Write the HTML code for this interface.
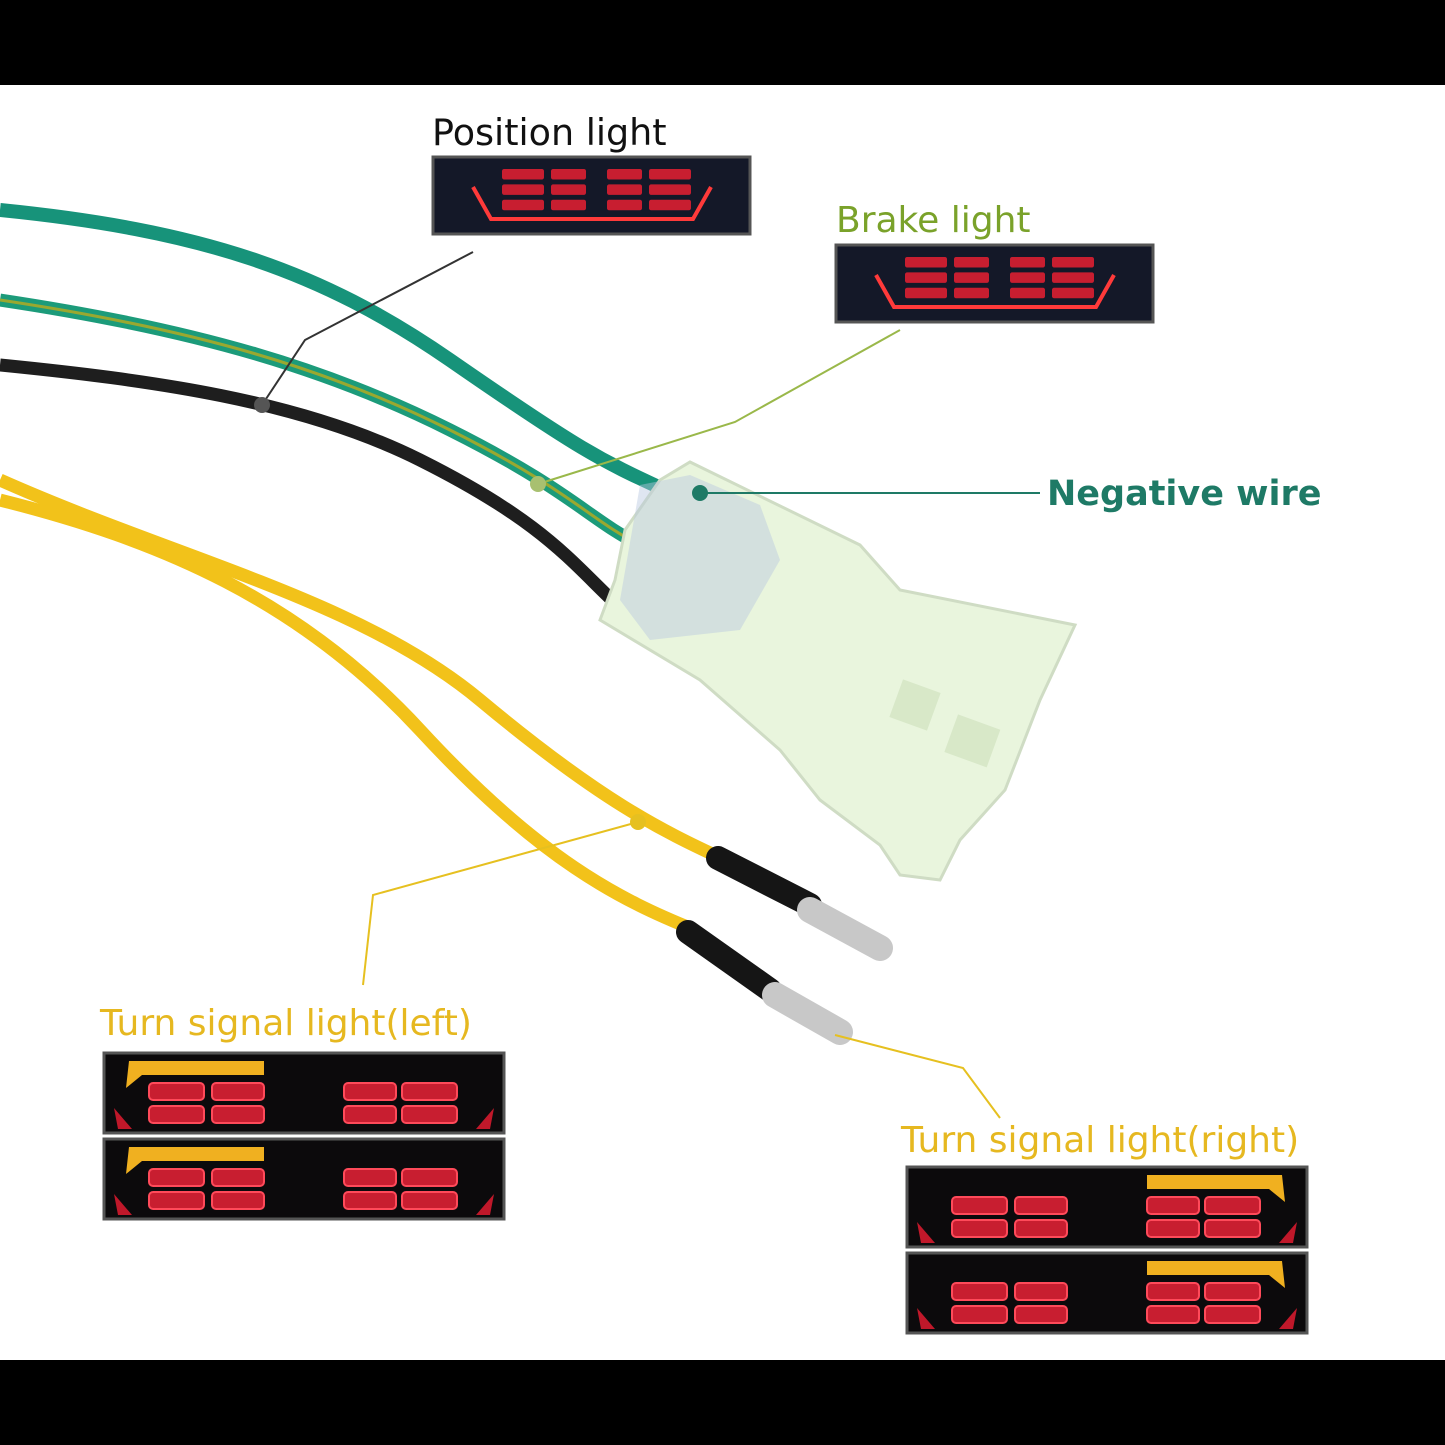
<!DOCTYPE html>
<html><head><meta charset="utf-8"><style>
html,body{margin:0;padding:0;background:#fff}
svg{display:block}
text{font-family:"DejaVu Sans","Liberation Sans",sans-serif}
</style></head><body>
<svg width="1445" height="1445" viewBox="0 0 1445 1445" xmlns="http://www.w3.org/2000/svg">
<defs>
<g id="bars">
  <rect x="45" y="30" width="55" height="17" rx="4" fill="#c81e30" stroke="#ff4a5a" stroke-width="2"/>
  <rect x="108" y="30" width="52" height="17" rx="4" fill="#c81e30" stroke="#ff4a5a" stroke-width="2"/>
  <rect x="45" y="53" width="55" height="17" rx="4" fill="#c81e30" stroke="#ff4a5a" stroke-width="2"/>
  <rect x="108" y="53" width="52" height="17" rx="4" fill="#c81e30" stroke="#ff4a5a" stroke-width="2"/>
  <rect x="240" y="30" width="52" height="17" rx="4" fill="#c81e30" stroke="#ff4a5a" stroke-width="2"/>
  <rect x="298" y="30" width="55" height="17" rx="4" fill="#c81e30" stroke="#ff4a5a" stroke-width="2"/>
  <rect x="240" y="53" width="52" height="17" rx="4" fill="#c81e30" stroke="#ff4a5a" stroke-width="2"/>
  <rect x="298" y="53" width="55" height="17" rx="4" fill="#c81e30" stroke="#ff4a5a" stroke-width="2"/>
  <path d="M10 55 L28 76 L14 76Z M390 55 L372 76 L386 76Z" fill="#c0182a"/>
</g>
<g id="panelL">
  <rect x="0" y="0" width="400" height="80" fill="#0c0a0c" stroke="#555" stroke-width="3"/>
  <use href="#bars"/>
  <path d="M25 8 L160 8 L160 22 L38 22 L22 35 Z" fill="#f0b020"/>
</g>
<g id="panelR">
  <rect x="0" y="0" width="400" height="80" fill="#0c0a0c" stroke="#555" stroke-width="3"/>
  <use href="#bars"/>
  <path d="M375 8 L240 8 L240 22 L362 22 L378 35 Z" fill="#f0b020"/>
</g>
<g id="panelP">
  <rect x="0" y="0" width="317" height="77" fill="#141828" stroke="#555" stroke-width="3"/>
  <g transform="translate(20,5) scale(0.7)">
    <rect x="70" y="10" width="60" height="15" rx="3" fill="#c81e30"/><rect x="140" y="10" width="50" height="15" rx="3" fill="#c81e30"/>
    <rect x="70" y="32" width="60" height="15" rx="3" fill="#c81e30"/><rect x="140" y="32" width="50" height="15" rx="3" fill="#c81e30"/>
    <rect x="70" y="54" width="60" height="15" rx="3" fill="#c81e30"/><rect x="140" y="54" width="50" height="15" rx="3" fill="#c81e30"/>
    <rect x="220" y="10" width="50" height="15" rx="3" fill="#c81e30"/><rect x="280" y="10" width="60" height="15" rx="3" fill="#c81e30"/>
    <rect x="220" y="32" width="50" height="15" rx="3" fill="#c81e30"/><rect x="280" y="32" width="60" height="15" rx="3" fill="#c81e30"/>
    <rect x="220" y="54" width="50" height="15" rx="3" fill="#c81e30"/><rect x="280" y="54" width="60" height="15" rx="3" fill="#c81e30"/>
  </g>
  <path d="M40 30 L58 62 L260 62 L278 30" fill="none" stroke="#ff3a3a" stroke-width="4"/>
</g>
</defs>

<rect width="1445" height="1445" fill="#fff"/>
<rect width="1445" height="85" fill="#000"/>
<rect y="1360" width="1445" height="85" fill="#000"/>

<path d="M0 210 C200 230 320 270 450 360 S600 460 665 490" fill="none" stroke="#17937a" stroke-width="14"/>
<path d="M0 300 C200 330 330 370 450 430 S590 520 640 545" fill="none" stroke="#1c9b7a" stroke-width="13"/>
<path d="M0 300 C200 330 330 370 450 430 S590 520 640 545" fill="none" stroke="#9aa830" stroke-width="3"/>
<path d="M0 365 C150 380 300 400 420 460 S570 560 612 600" fill="none" stroke="#1e1e1e" stroke-width="13"/>
<path d="M0 480 C180 560 360 600 480 700 S660 830 725 860" fill="none" stroke="#f2c21a" stroke-width="13"/>
<path d="M0 500 C160 540 300 600 420 730 S620 900 695 930" fill="none" stroke="#f2c21a" stroke-width="13"/>
<path d="M718 858 L810 905" stroke="#151515" stroke-width="24" stroke-linecap="round"/>
<path d="M688 932 L770 990" stroke="#151515" stroke-width="24" stroke-linecap="round"/>
<path d="M810 910 L880 948" stroke="#c8c8c8" stroke-width="26" stroke-linecap="round"/>
<path d="M775 995 L840 1032" stroke="#c8c8c8" stroke-width="26" stroke-linecap="round"/>

<path d="M600 620 L615 580 L625 530 L660 480 L690 462 L860 545 L900 590 L1075 625 L1040 700 L1005 790 L960 840 L940 880 L900 875 L880 845 L820 800 L780 750 L700 680 Z" fill="#e9f5dd" stroke="#cfdcc4" stroke-width="3"/>
<path d="M640 485 L690 475 L760 505 L780 560 L740 630 L650 640 L620 600 Z" fill="#b8c8e0" opacity="0.45"/>
<rect x="950" y="720" width="45" height="40" fill="#d8e8c8" transform="rotate(20 970 740)"/>
<rect x="895" y="685" width="40" height="40" fill="#d8e8c8" transform="rotate(20 915 705)"/>

<polyline points="473,252 305,340 262,405" fill="none" stroke="#333" stroke-width="2"/>
<circle cx="262" cy="405" r="8" fill="#555"/>
<polyline points="900,330 735,422 538,484" fill="none" stroke="#9ab84a" stroke-width="2"/>
<circle cx="538" cy="484" r="8" fill="#a8c070"/>
<line x1="700" y1="493" x2="1040" y2="493" stroke="#1e7a66" stroke-width="2"/>
<circle cx="700" cy="493" r="8" fill="#1e7a66"/>
<polyline points="638,822 373,895 363,985" fill="none" stroke="#e6c020" stroke-width="2"/>
<circle cx="638" cy="822" r="8" fill="#e6c020"/>
<polyline points="835,1035 963,1068 1000,1118" fill="none" stroke="#e6c020" stroke-width="2"/>

<text x="432" y="145" font-size="36.5" fill="#111">Position light</text>
<use href="#panelP" x="433" y="157"/>
<text x="836" y="232" font-size="36" fill="#7aa22a">Brake light</text>
<use href="#panelP" x="836" y="245"/>
<text x="1047" y="505" font-size="35" font-weight="bold" fill="#1e7a66">Negative wire</text>
<text x="100" y="1035" font-size="36" fill="#e6b820">Turn signal light(left)</text>
<use href="#panelL" x="104" y="1053"/>
<use href="#panelL" x="104" y="1139"/>
<text x="901" y="1152" font-size="36" fill="#e6b820">Turn signal light(right)</text>
<use href="#panelR" x="907" y="1167"/>
<use href="#panelR" x="907" y="1253"/>
</svg>
</body></html>
